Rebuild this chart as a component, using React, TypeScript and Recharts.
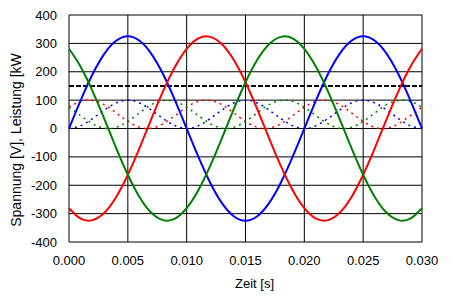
import { LineChart, Line, XAxis, YAxis, CartesianGrid, Label } from "recharts";

// time in seconds, 1 ms steps
const zeit = [
  0, 0.001, 0.002, 0.003, 0.004, 0.005, 0.006, 0.007, 0.008, 0.009, 0.01,
  0.011, 0.012, 0.013, 0.014, 0.015, 0.016, 0.017, 0.018, 0.019, 0.02,
  0.021, 0.022, 0.023, 0.024, 0.025, 0.026, 0.027, 0.028, 0.029, 0.03,
];

// phase voltages [V]
const u1 = [
  0, 100, 191, 263, 309, 325, 309, 263, 191, 100, 0,
  -100, -191, -263, -309, -325, -309, -263, -191, -100, 0,
  100, 191, 263, 309, 325, 309, 263, 191, 100, 0,
];
const u2 = [
  -281, -318, -323, -297, -242, -163, -68, 34, 132, 217, 281,
  318, 323, 297, 242, 163, 68, -34, -132, -217, -281,
  -318, -323, -297, -242, -163, -68, 34, 132, 217, 281,
];
const u3 = [
  281, 217, 132, 34, -68, -163, -242, -297, -323, -318, -281,
  -217, -132, -34, 68, 163, 242, 297, 323, 318, 281,
  217, 132, 34, -68, -163, -242, -297, -323, -318, -281,
];

// phase powers [kW]
const p1 = [
  0, 10, 35, 65, 90, 100, 90, 65, 35, 10, 0,
  10, 35, 65, 90, 100, 90, 65, 35, 10, 0,
  10, 35, 65, 90, 100, 90, 65, 35, 10, 0,
];
const p2 = [
  75, 96, 99, 84, 55, 25, 4, 1, 17, 45, 75,
  96, 99, 84, 55, 25, 4, 1, 17, 45, 75,
  96, 99, 84, 55, 25, 4, 1, 17, 45, 75,
];
const p3 = [
  75, 45, 17, 1, 4, 25, 55, 84, 99, 96, 75,
  45, 17, 1, 4, 25, 55, 84, 99, 96, 75,
  45, 17, 1, 4, 25, 55, 84, 99, 96, 75,
];
const pGesamt = [
  150, 150, 150, 150, 150, 150, 150, 150, 150, 150, 150,
  150, 150, 150, 150, 150, 150, 150, 150, 150, 150,
  150, 150, 150, 150, 150, 150, 150, 150, 150, 150,
];

const xTicks = [0, 0.005, 0.01, 0.015, 0.02, 0.025, 0.03];
const yTicks = [-400, -300, -200, -100, 0, 100, 200, 300, 400];

const data = zeit.map((t, i) => ({
  t,
  u1: u1[i],
  u2: u2[i],
  u3: u3[i],
  p1: p1[i],
  p2: p2[i],
  p3: p3[i],
  pg: pGesamt[i],
}));

const font = "Arial, 'Liberation Sans', sans-serif";
const tickStyle = { fontSize: 13, fill: "#000", fontFamily: font };

export default function App() {
  return (
    <div style={{ position: "absolute", left: 0, top: 0, background: "#fff" }}>
      <LineChart
        width={453}
        height={298}
        data={data}
        margin={{ top: 15, right: 31, bottom: 0, left: 0 }}
      >
        <CartesianGrid stroke="#000" strokeWidth={1} />
        <XAxis
          dataKey="t"
          type="number"
          domain={[0, 0.03]}
          ticks={xTicks}
          tickFormatter={(v: number) => v.toFixed(3)}
          tick={tickStyle}
          tickLine={false}
          axisLine={false}
          tickSize={0}
          tickMargin={14}
          height={56}
        >
          <Label
            value="Zeit [s]"
            position="insideBottom"
            offset={10}
            dx={9}
            style={{ fontSize: 13, fill: "#000", fontFamily: font }}
          />
        </XAxis>
        <YAxis
          type="number"
          domain={[-400, 400]}
          ticks={yTicks}
          tick={tickStyle}
          tickLine={false}
          axisLine={false}
          tickSize={0}
          tickMargin={12}
          width={69}
          interval={0}
        >
          <Label
            content={() => (
              <text
                x={16}
                y={140}
                transform="rotate(-90 16 140)"
                textAnchor="middle"
                dominantBaseline="central"
                fontSize={14}
                fontFamily={font}
                fill="#000"
              >
                Spannung [V], Leistung [kW
              </text>
            )}
          />
        </YAxis>
        <Line dataKey="pg" stroke="#000" strokeWidth={2} strokeDasharray="5 2" dot={false} type="linear" isAnimationActive={false} />
        <Line dataKey="p1" stroke="#0000ff" strokeWidth={1.5} strokeDasharray="2 4" dot={false} type="natural" isAnimationActive={false} />
        <Line dataKey="p2" stroke="#ff0000" strokeWidth={1.5} strokeDasharray="2 4" dot={false} type="natural" isAnimationActive={false} />
        <Line dataKey="p3" stroke="#008000" strokeWidth={1.5} strokeDasharray="2 4" dot={false} type="natural" isAnimationActive={false} />
        <Line dataKey="u1" stroke="#0000ff" strokeWidth={2} dot={false} type="natural" isAnimationActive={false} />
        <Line dataKey="u2" stroke="#ff0000" strokeWidth={2} dot={false} type="natural" isAnimationActive={false} />
        <Line dataKey="u3" stroke="#008000" strokeWidth={2} dot={false} type="natural" isAnimationActive={false} />
      </LineChart>
    </div>
  );
}
